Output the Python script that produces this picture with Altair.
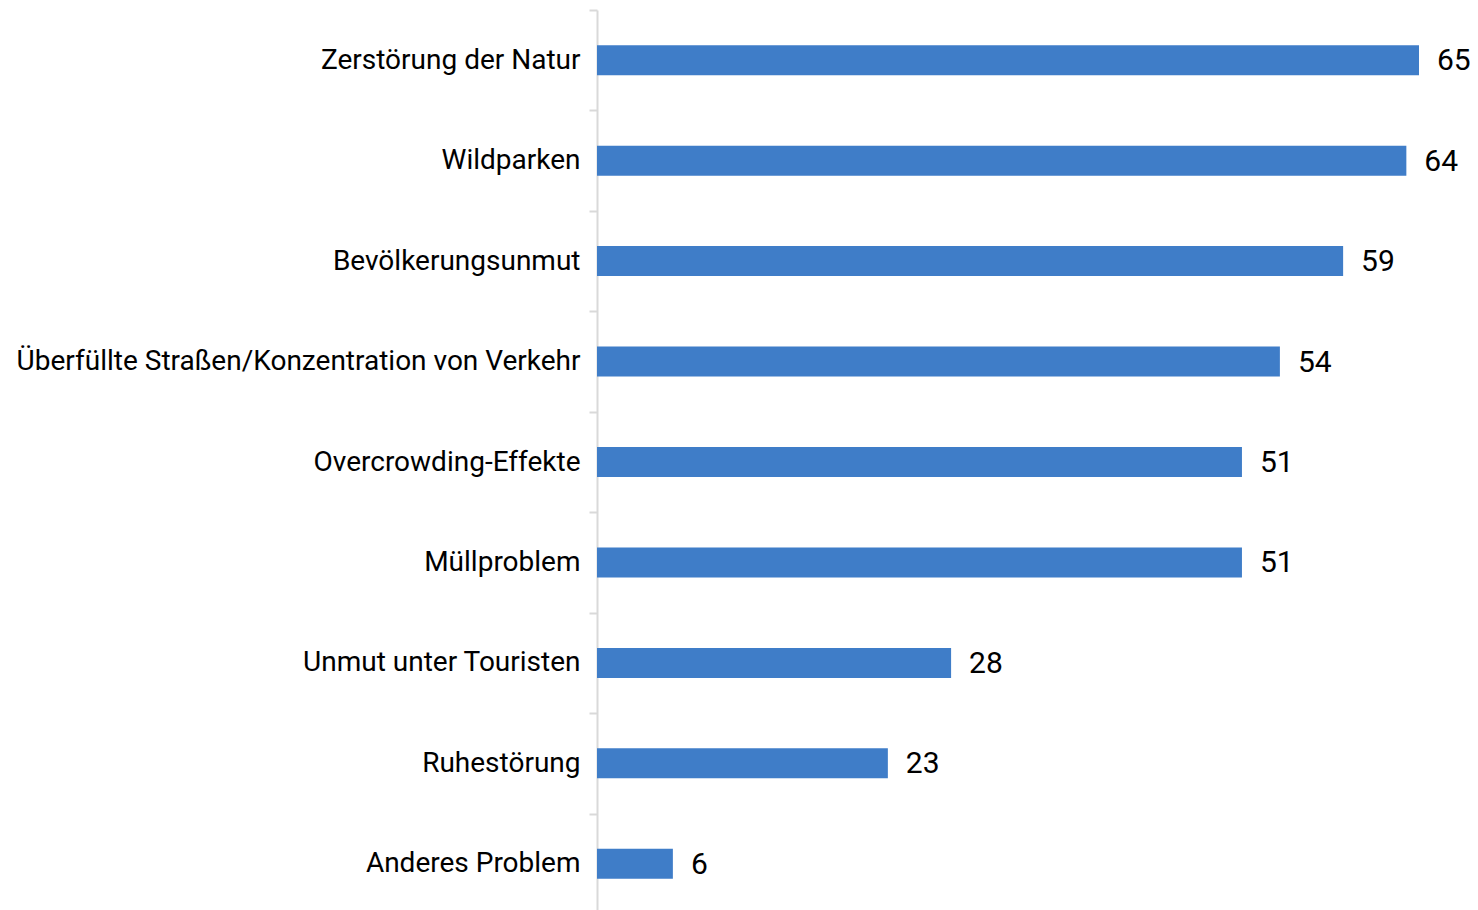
import altair as alt
import pandas as pd

categories = [
    "Zerstörung der Natur",
    "Wildparken",
    "Bevölkerungsunmut",
    "Überfüllte Straßen/Konzentration von Verkehr",
    "Overcrowding-Effekte",
    "Müllproblem",
    "Unmut unter Touristen",
    "Ruhestörung",
    "Anderes Problem",
]
values = [65, 64, 59, 54, 51, 51, 28, 23, 6]

df = pd.DataFrame({"cat": categories, "val": values})

FONT = "Roboto"
BAR_COLOR = "#3F7DC8"

y_enc = alt.Y(
    "cat:N",
    sort=categories,
    title=None,
    scale=alt.Scale(paddingInner=0, paddingOuter=0),
    axis=alt.Axis(
        tickBand="extent",
        domainColor="#d9d9d9",
        domainWidth=2,
        tickColor="#d9d9d9",
        tickWidth=2,
        tickSize=8,
        labelFont=FONT,
        labelFontSize=28,
        labelColor="#000000",
        labelPadding=9,
        labelLimit=1000,
    ),
)
x_enc = alt.X(
    "val:Q",
    title=None,
    scale=alt.Scale(domain=[0, 65], nice=False, zero=True),
    axis=None,
)

bars = alt.Chart(df).mark_bar(size=30, color=BAR_COLOR).encode(y=y_enc, x=x_enc)
labels = alt.Chart(df).mark_text(
    align="left", baseline="middle", dx=18, dy=1, font=FONT, fontSize=30, color="#000000"
).encode(y=alt.Y("cat:N", sort=categories), x="val:Q", text="val:Q")

chart = (
    alt.layer(bars, labels)
    .properties(
        width=822,
        height=904,
        autosize=alt.AutoSizeParams(type="none"),
        padding={"top": 2, "left": 589, "right": 51, "bottom": 0},
        background="white",
    )
    .configure_view(strokeWidth=0, stroke="transparent")
)

chart.save("out.html", embed_options={"renderer": "svg", "actions": False})
